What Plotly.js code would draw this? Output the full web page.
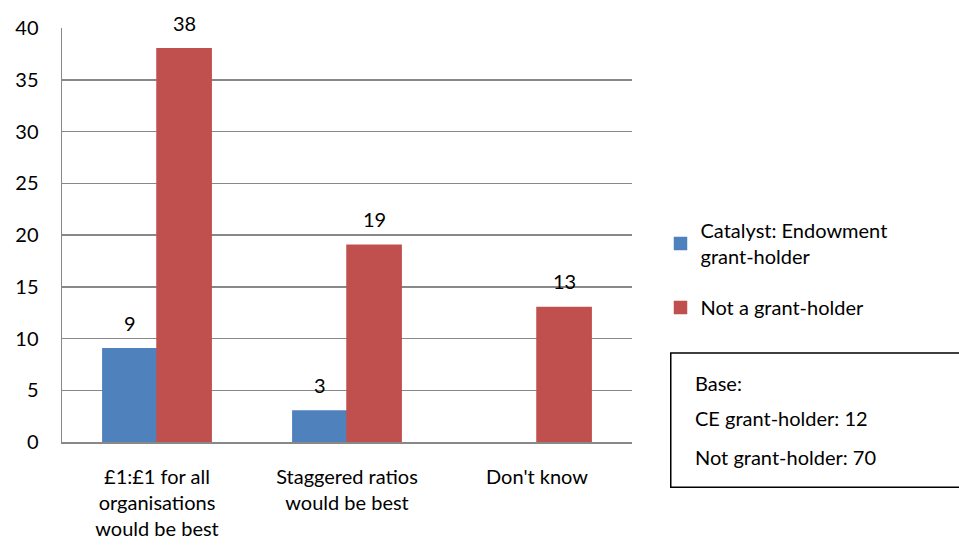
<!DOCTYPE html>
<html>
<head>
<meta charset="utf-8">
<script src="https://cdn.plot.ly/plotly-3.0.1.min.js"></script>
<style>html,body{margin:0;padding:0;background:#fff;}#chart{width:959px;height:554px;}</style>
</head>
<body>
<div id="chart"></div>
<script>
const categories = ["£1:£1 for all<br>organisations<br>would be best", "Staggered ratios<br>would be best", "Don't know"];
const seriesNames = ["Catalyst: Endowment<br>grant-holder", "Not a grant-holder"];
const grantHolder = [9, 3, null];
const notGrantHolder = [38, 19, 13];
const yTicks = [0, 5, 10, 15, 20, 25, 30, 35, 40];
const baseLines = ["Base:", "CE grant-holder: 12", "Not grant-holder: 70"];

const FONT = "Lato, 'Open Sans', sans-serif";
const colors = ["#4F81BD", "#C0504D"];

const traces = [grantHolder, notGrantHolder].map((vals, i) => ({
  type: "bar",
  name: seriesNames[i],
  x: categories,
  y: vals,
  marker: {color: colors[i], line: {color: colors[i], width: 1.5}},
  legendgroup: "g" + i,
  hoverinfo: "y"
}));

const annotations = [];
[grantHolder, notGrantHolder].forEach((vals, i) => {
  vals.forEach((v, j) => {
    if (v === null || v === undefined) return;
    annotations.push({
      x: categories[j], y: v, xref: "x", yref: "y",
      text: String(v), showarrow: false,
      xshift: i === 0 ? -27 : 27, yshift: 26,
      yanchor: "middle",
      font: {family: FONT, size: 20, color: "#000"}
    });
  });
});
const lineY = [0.142, 0.058, -0.036];
baseLines.forEach((t, k) => {
  annotations.push({
    xref: "paper", yref: "paper", x: 1.107, y: lineY[k],
    xanchor: "left", yanchor: "middle", showarrow: false,
    text: t, font: {family: FONT, size: 20, color: "#000"}
  });
});

const layout = {
  width: 959, height: 554,
  margin: {l: 62, r: 327, t: 28, b: 112},
  paper_bgcolor: "#fff", plot_bgcolor: "#fff",
  barmode: "group",
  bargap: 0.43,
  bargroupgap: 0,
  font: {family: FONT, size: 20, color: "#000"},
  xaxis: {
    type: "category",
    showline: true, linecolor: "#888", linewidth: 1.5,
    ticks: "", showgrid: false,
    ticklabelstandoff: 16,
    tickfont: {family: FONT, size: 20, color: "#000"}
  },
  yaxis: {
    range: [0, 40],
    tickvals: yTicks,
    showline: true, linecolor: "#888", linewidth: 1.5,
    showgrid: true, gridcolor: "#888", gridwidth: 1.5,
    zeroline: false,
    ticks: "",
    ticklabelstandoff: 18,
    tickfont: {family: FONT, size: 20, color: "#000"}
  },
  legend: {
    x: 1.05, y: 0.558, xanchor: "left", yanchor: "top",
    traceorder: "grouped", tracegroupgap: 22,
    font: {family: FONT, size: 20, color: "#000"},
    bgcolor: "rgba(0,0,0,0)"
  },
  showlegend: true,
  shapes: [{
    type: "rect", xref: "paper", yref: "paper",
    x0: 1.068, x1: 1.58, y0: -0.109, y1: 0.215,
    line: {color: "#000", width: 1.5}, fillcolor: "rgba(0,0,0,0)"
  }],
  annotations: annotations
};

Plotly.newPlot("chart", traces, layout, {displayModeBar: false, staticPlot: true});
</script>
</body>
</html>
